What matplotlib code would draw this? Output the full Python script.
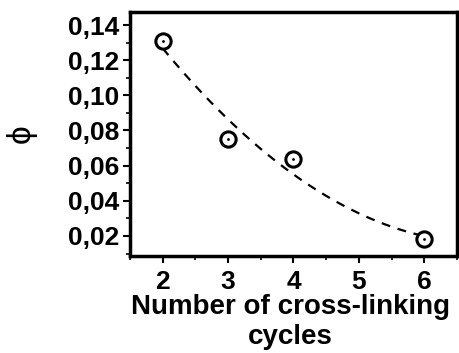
import numpy as np
import matplotlib
matplotlib.use("Agg")
import matplotlib.pyplot as plt
from matplotlib.ticker import MultipleLocator, FuncFormatter

# data
cycles = np.array([2, 3, 4, 6])
phi = np.array([0.131, 0.075, 0.0635, 0.0185])
y_ticks = [0.02, 0.04, 0.06, 0.08, 0.10, 0.12, 0.14]
x_ticks = [2, 3, 4, 5, 6]

plt.rcParams['font.family'] = ['Liberation Sans', 'DejaVu Sans']
plt.rcParams['font.weight'] = 'bold'

fig = plt.figure(figsize=(4.6, 3.53), dpi=100)
ax = fig.add_axes([130 / 460, 1 - 256 / 353, (457 - 130) / 460, (256 - 12) / 353])

# dashed trend (quadratic fit)
coef = np.polyfit(cycles, phi, 2)
xf = np.linspace(2, 6, 100)
ax.plot(xf, np.polyval(coef, xf), color='black', ls=(0, (4, 3.5)), lw=1.6)

ax.plot(cycles, phi, 'o', ms=11, mfc='white', mec='black', mew=2.2)
ax.plot(cycles, phi, '.', ms=2, color='black')

ax.set_xlim(1.5, 6.5)
ax.set_ylim(0.0086, 0.1474)
ax.set_xticks(x_ticks)
ax.set_yticks(y_ticks)
ax.xaxis.set_minor_locator(MultipleLocator(0.5))
ax.yaxis.set_minor_locator(MultipleLocator(0.01))
ax.yaxis.set_major_formatter(FuncFormatter(lambda v, p: f"{v:.2f}".replace('.', ',')))

for s in ax.spines.values():
    s.set_linewidth(2.5)
ax.tick_params(which='major', length=5, width=1.5, labelsize=19)
ax.tick_params(axis='x', pad=5)
ax.tick_params(axis='y', pad=3)
ax.tick_params(which='minor', length=3, width=1.2)

ax.set_xlabel("Number of cross-linking\ncycles", fontsize=20, fontweight='bold',
              linespacing=1.2, labelpad=0, x=0.49)
ax.set_ylabel("ϕ", fontsize=24, fontweight='normal', rotation=90, labelpad=22)

fig.savefig("out.png", dpi=100)
